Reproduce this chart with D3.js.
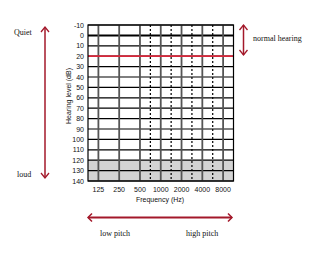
<!DOCTYPE html>
<html><head><meta charset="utf-8">
<script src="https://cdn.jsdelivr.net/npm/d3@7"></script>
<style>body{margin:0;background:#fff}svg{display:block}</style>
</head><body>
<svg id="c" width="330" height="256"></svg>
<script>
const frequencies = ["125","250","500","1000","2000","4000","8000"];
const interOctave = [["500","1000"],["1000","2000"],["2000","4000"],["4000","8000"]];
const levels = [-10,0,10,20,30,40,50,60,70,80,90,100,110,120,130,140];
const normalLimit = 20;
const shadedRange = [120,140];
const svg = d3.select("#c");
const L=88,R=233.5,T=25,B=181;
const x = d3.scalePoint().domain(frequencies).range([L,R]).padding(0.5);
const y = d3.scaleLinear().domain([-10,140]).range([T,B]);
const step = x.step();
// shading
svg.append("rect").attr("x",L).attr("y",y(shadedRange[0])).attr("width",R-L).attr("height",y(shadedRange[1])-y(shadedRange[0])).attr("fill","#d3d3d3");
// horizontal lines
svg.selectAll("line.h").data(levels).enter().append("line")
 .attr("x1",L).attr("x2",R).attr("y1",d=>y(d)).attr("y2",d=>y(d))
 .attr("stroke","#000").attr("stroke-width",d=>d===0?2:1.2);
// vertical solid
svg.selectAll("line.v").data(frequencies).enter().append("line")
 .attr("x1",d=>x(d)).attr("x2",d=>x(d)).attr("y1",T).attr("y2",B)
 .attr("stroke","#555").attr("stroke-width",1.8);
// dashed
svg.selectAll("line.d").data(interOctave).enter().append("line")
 .attr("x1",d=>(x(d[0])+x(d[1]))/2).attr("x2",d=>(x(d[0])+x(d[1]))/2).attr("y1",T).attr("y2",B)
 .attr("stroke","#000").attr("stroke-width",1.2).attr("stroke-dasharray","2,2");
// red line
svg.append("line").attr("x1",L).attr("x2",R).attr("y1",y(normalLimit)).attr("y2",y(normalLimit)).attr("stroke","#d9263a").attr("stroke-width",1.8);
// border
svg.append("rect").attr("x",L).attr("y",T).attr("width",R-L).attr("height",B-T).attr("fill","none").attr("stroke","#000").attr("stroke-width",1.2);
// tick labels
svg.selectAll("text.yl").data(levels).enter().append("text")
 .attr("x",84).attr("y",d=>y(d)+2.5).attr("text-anchor","end")
 .attr("font-family","Arial, 'Liberation Sans', sans-serif").attr("font-size",7).attr("fill","#111").text(d=>d);
svg.selectAll("text.xl").data(frequencies).enter().append("text")
 .attr("x",d=>x(d)).attr("y",192).attr("text-anchor","middle")
 .attr("font-family","Arial, 'Liberation Sans', sans-serif").attr("font-size",7).attr("fill","#111").text(d=>d);
svg.append("text").attr("x",160).attr("y",202).attr("text-anchor","middle")
 .attr("font-family","Arial, 'Liberation Sans', sans-serif").attr("font-size",7).attr("fill","#111").text("Frequency (Hz)");
svg.append("text").attr("transform","translate(71,96) rotate(-90)").attr("text-anchor","middle")
 .attr("font-family","Arial, 'Liberation Sans', sans-serif").attr("font-size",7).attr("fill","#111").text("Hearing level (dB)");
// arrows
const ac="#a3182a";
function varrow(xx,y1,y2){
 svg.append("line").attr("x1",xx).attr("x2",xx).attr("y1",y1).attr("y2",y2).attr("stroke",ac).attr("stroke-width",1.5);
 svg.append("path").attr("d",`M${xx-4},${y1+5}L${xx},${y1}L${xx+4},${y1+5}M${xx-4},${y2-5}L${xx},${y2}L${xx+4},${y2-5}`).attr("fill","none").attr("stroke",ac).attr("stroke-width",1.3);
}
varrow(45,27,178);
varrow(243.5,25,55);
const hy=217.5,hx1=88,hx2=232;
svg.append("line").attr("x1",hx1).attr("x2",hx2).attr("y1",hy).attr("y2",hy).attr("stroke",ac).attr("stroke-width",2);
svg.append("path").attr("d",`M${hx1+4},${hy-4}L${hx1},${hy}L${hx1+4},${hy+4}M${hx2-4},${hy-4}L${hx2},${hy}L${hx2-4},${hy+4}`).attr("fill","none").attr("stroke",ac).attr("stroke-width",1.5);
const serif="'Liberation Serif','Times New Roman',serif";
function t(s,xx,yy,anchor){svg.append("text").attr("x",xx).attr("y",yy).attr("text-anchor",anchor||"start").attr("font-family",serif).attr("font-size",8).attr("fill","#111").text(s);}
t("Quiet",14,35);
t("loud",17,177);
t("normal hearing",253,41);
t("low pitch",100,236);
t("high pitch",186,236);
</script>
</body></html>
